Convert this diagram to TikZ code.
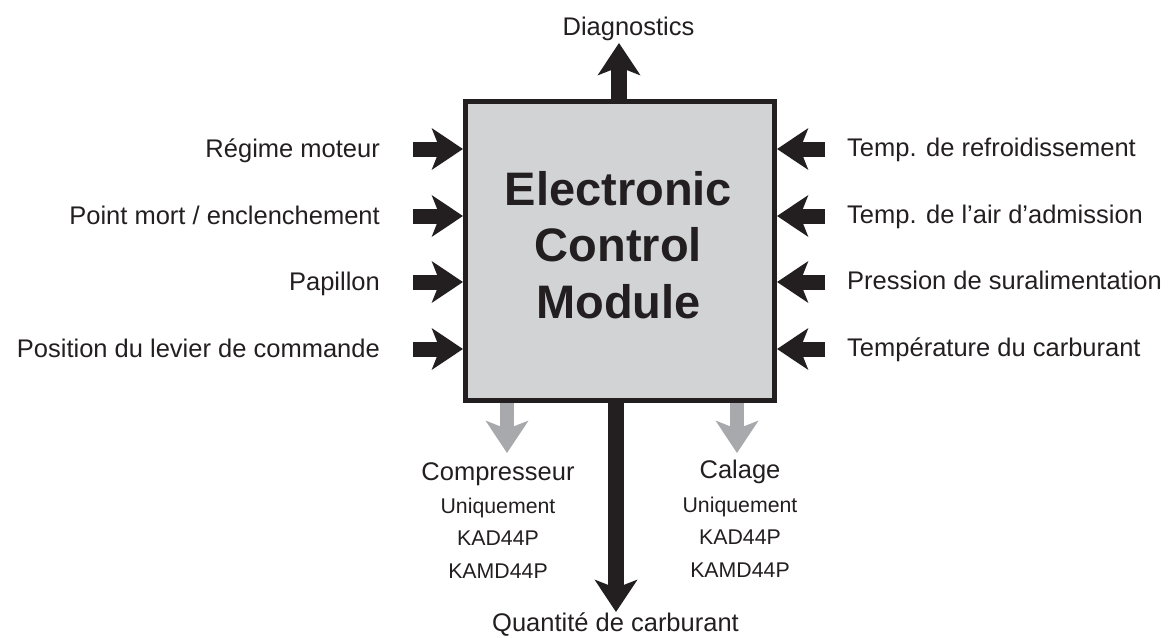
\documentclass[tikz,border=0pt]{standalone}
\usepackage{fontspec}
\setmainfont{Liberation Sans}
\usepackage{tikz}
\usetikzlibrary{positioning, arrows.meta}
\definecolor{ecmblack}{HTML}{231F20}
\definecolor{ecmfill}{HTML}{D1D3D4}
\definecolor{ecmgrey}{HTML}{A7A9AC}

\begin{document}
\begin{tikzpicture}[
      x=1pt, y=-1pt,
      node_lbl/.style={inner sep=0pt, text=ecmblack, font=\fontsize{25.5}{30}\selectfont},
      node_note/.style={inner sep=0pt, text=ecmblack, align=center, font=\fontsize{21.3}{32.5}\selectfont},
      node_ecm/.style={draw=ecmblack, fill=ecmfill, line width=5pt, inner sep=0pt,
        minimum width=309pt, minimum height=299pt},
      edge_in/.style={draw=ecmblack, line width=15pt, -{Stealth[length=31pt, width=41pt, inset=8pt]}},
      edge_out/.style={draw=ecmblack, line width=16pt, -{Stealth[length=32pt, width=42pt, inset=8pt]}},
      edge_opt/.style={draw=ecmgrey, line width=14pt, -{Stealth[length=32pt, width=42pt, inset=8pt]}}
    ]
      \useasboundingbox (0,0) rectangle (1169,637);
      \node[node_ecm] (ecm) at (620,251) {};
      \node[text=ecmblack, align=center, inner sep=0pt,
        font=\fontsize{47}{56.5}\selectfont\bfseries] (ecmtitle) at (618.5,245) {Electronic\\Control\\Module};

      \foreach \n/\t/\y in {regime/{Régime moteur}/149, pmort/{Point mort / enclenchement}/216,
          papillon/{Papillon}/282, levier/{Position du levier de commande}/349}{
        \coordinate (\n y) at (0,\y);
        \node[node_lbl, anchor=base east] (\n) at (380,\y+8) {\t};
        \draw[edge_in] ([shift={(33,-8)}]\n.base east) -- (ecm.west |- \n y);
      }
      \foreach \n/\t/\y in {refroid/{Temp. de refroidissement}/149, admair/{Temp. de l’air d’admission}/216,
          surali/{Pression de suralimentation}/282, carbtemp/{Température du carburant}/349}{
        \coordinate (\n y) at (0,\y);
        \node[node_lbl, anchor=base west] (\n) at (847,\y+7) {\t};
        \draw[edge_in] ([shift={(-22,-7)}]\n.base west) -- (ecm.east |- \n y);
      }

      \node[node_lbl, anchor=base] (diag) at (628.5,35) {Diagnostics};
      \coordinate (diagtip) at (619,43);
      \draw[edge_out] (diagtip |- ecm.north) -- (diagtip);

      \node[node_lbl, anchor=base] (fuel) at (615.5,631) {Quantité de carburant};
      \coordinate (fueltip) at (616,612);
      \draw[edge_out] (fueltip |- ecm.south) -- (fueltip);

      \node[node_lbl, anchor=base] (compr) at (498,480) {Compresseur};
      \node[node_note, anchor=north] (comprnote) at (498,497.7) {Uniquement\\KAD44P\\KAMD44P};
      \coordinate (comprtip) at (507,453);
      \draw[edge_opt] (comprtip |- ecm.south) -- (comprtip);

      \node[node_lbl, anchor=base] (calage) at (740,478) {Calage};
      \node[node_note, anchor=north] (calagenote) at (740,496.7) {Uniquement\\KAD44P\\KAMD44P};
      \coordinate (calagetip) at (737,453);
      \draw[edge_opt] (calagetip |- ecm.south) -- (calagetip);
    \end{tikzpicture}
\end{document}
